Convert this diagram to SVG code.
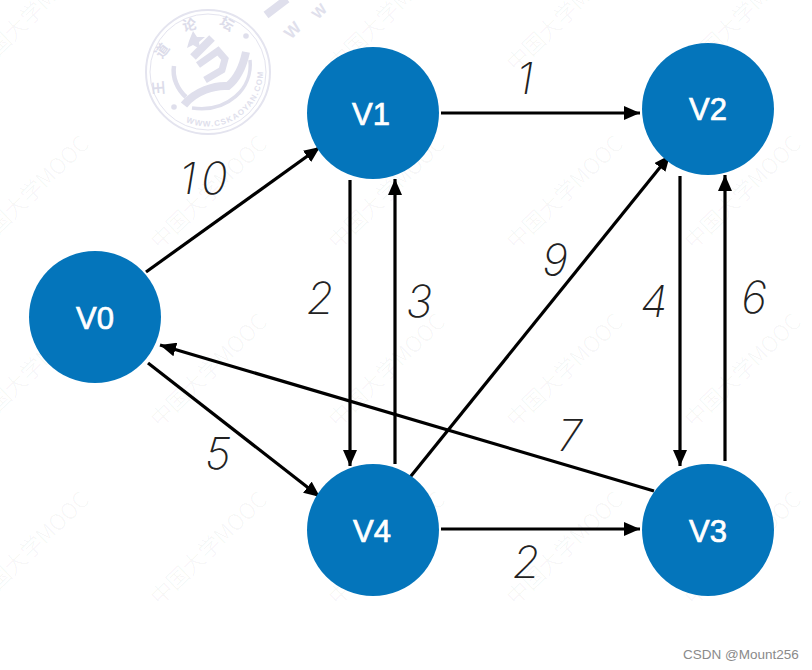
<svg xmlns="http://www.w3.org/2000/svg" width="812" height="670" viewBox="0 0 812 670">
  <style>
    .mark { font-family: "Noto Sans CJK SC", "Liberation Sans", sans-serif; font-size: 22px; font-weight: 300; fill: #000; fill-opacity: 0.05; }
    .seal-line { fill: none; stroke: #dfdfec; stroke-linecap: butt; }
    .ring { fill: none; stroke: #e4e4ef; }
    .seal-dot { fill: #dfdfec; }
    .seal-text { font-family: "Liberation Sans", sans-serif; fill: #e0e0ec; font-weight: 700; }
    .seal-name { font-family: "Noto Sans CJK SC", sans-serif; fill: #dcdcea; font-weight: 700; font-size: 14px; letter-spacing: 20px; }
    .node { fill: #0475bb; }
    .node-label { font-family: "Liberation Sans", Arial, sans-serif; font-size: 31px; fill: #fff; stroke: #fff; stroke-width: 0.7; text-anchor: middle; }
    .edge { stroke: #000; stroke-width: 3.2; fill: none; marker-end: url(#head); }
    .weight { font-family: Inter, "Liberation Sans", sans-serif; font-size: 44px; font-weight: 250; font-style: italic; fill: #222; text-anchor: middle; }
    .credit { font-family: "Liberation Sans", sans-serif; font-size: 13.5px; fill: #8a8a8a; }
  </style>
  <defs>
    <marker id="head" markerUnits="userSpaceOnUse" markerWidth="18" markerHeight="14" refX="16" refY="7" orient="auto">
      <path d="M0 0 L16 7 L0 14 Z" fill="#000"/>
    </marker>
    <text id="wm" class="mark" text-anchor="middle" transform="rotate(-44)">中国大学MOOC</text>
    <path id="seal-bottom" d="M186 122 A55 55 0 0 0 263 72"/>
    <path id="seal-top" d="M167 94 A47 47 0 0 1 243 41"/>
  </defs>
  <rect width="812" height="670" fill="#fff"/>

  <g id="watermarks">
    <use href="#wm" transform="translate(36 20)"/>
    <use href="#wm" transform="translate(392 20)"/>
    <use href="#wm" transform="translate(570 20)"/>
    <use href="#wm" transform="translate(748 20)"/>
    <use href="#wm" transform="translate(36 198)"/>
    <use href="#wm" transform="translate(214 198)"/>
    <use href="#wm" transform="translate(392 198)"/>
    <use href="#wm" transform="translate(570 198)"/>
    <use href="#wm" transform="translate(748 198)"/>
    <use href="#wm" transform="translate(36 376)"/>
    <use href="#wm" transform="translate(214 376)"/>
    <use href="#wm" transform="translate(392 376)"/>
    <use href="#wm" transform="translate(570 376)"/>
    <use href="#wm" transform="translate(748 376)"/>
    <use href="#wm" transform="translate(36 554)"/>
    <use href="#wm" transform="translate(214 554)"/>
    <use href="#wm" transform="translate(392 554)"/>
    <use href="#wm" transform="translate(570 554)"/>
    <use href="#wm" transform="translate(748 554)"/>
    <use href="#wm" transform="translate(36 732)"/>
    <use href="#wm" transform="translate(214 732)"/>
    <use href="#wm" transform="translate(392 732)"/>
    <use href="#wm" transform="translate(570 732)"/>
    <use href="#wm" transform="translate(748 732)"/>
  </g>

  <g id="seal">
    <circle class="ring" cx="208" cy="72" r="62" stroke-width="2"/>
    <circle class="ring" cx="208" cy="72" r="58" stroke-width="1"/>
    <!-- open book and its crescent -->
    <path class="seal-line" stroke-width="8" d="M184 105 C195 91 215 85 228 86 C238 78 243 66 246 52"/>
    <path class="seal-line" stroke-width="3.5" d="M250 60 C253 88 228 113 192 108"/>
    <path class="seal-line" stroke-width="4.5" d="M174 66 C172 78 178 90 186 97"/>
    <!-- central strokes -->
    <path class="seal-line" stroke-width="8" d="M193 57 L212 38"/>
    <path class="seal-line" stroke-width="7" d="M198 65 L218 51 L225 59 L222 70 L205 80"/>
    <path class="seal-dot" d="M193 31 L197 37 L205 37 L199 42 L200 49 L193 45 L187 48 L189 41 Z"/>
    <circle class="seal-dot" cx="246" cy="36" r="2.8"/>
    <circle class="seal-dot" cx="174" cy="107" r="2.8"/>
    <text class="seal-text" font-size="8" letter-spacing="1.2"><textPath href="#seal-bottom">WWW.CSKAOYAN.COM</textPath></text>
    <text class="seal-name"><textPath href="#seal-top">王道论坛</textPath></text>
    <path class="seal-line" stroke-width="8" d="M266 15 L287 -1"/>
    <text class="seal-text" font-size="17" font-weight="400" transform="translate(291 40) rotate(-45)">W</text>
    <text class="seal-text" font-size="15" font-weight="400" transform="translate(318 20) rotate(-45)">W</text>
  </g>

  <g id="connectors">
    <line class="edge" x1="146" y1="272" x2="320" y2="147"/>
    <line class="edge" x1="148" y1="363" x2="320" y2="497"/>
    <line class="edge" x1="350" y1="180" x2="350" y2="466"/>
    <line class="edge" x1="395" y1="464" x2="395" y2="179"/>
    <line class="edge" x1="441" y1="113" x2="640" y2="113"/>
    <line class="edge" x1="441" y1="529" x2="640" y2="529"/>
    <line class="edge" x1="407" y1="481" x2="670" y2="155"/>
    <line class="edge" x1="680" y1="176" x2="680" y2="466"/>
    <line class="edge" x1="725" y1="461" x2="725" y2="175"/>
    <line class="edge" x1="654" y1="491" x2="160" y2="345"/>
  </g>

  <g id="V0"><circle class="node" cx="95" cy="317" r="66"/><text class="node-label" x="95" y="329">V0</text></g>
  <g id="V1"><circle class="node" cx="373" cy="113" r="66"/><text class="node-label" x="371" y="125">V1</text></g>
  <g id="V2"><circle class="node" cx="708" cy="109" r="66"/><text class="node-label" x="708" y="120">V2</text></g>
  <g id="V3"><circle class="node" cx="708" cy="530" r="66"/><text class="node-label" x="708" y="542">V3</text></g>
  <g id="V4"><circle class="node" cx="373" cy="530" r="66"/><text class="node-label" x="372" y="542">V4</text></g>

  <g id="weights">
    <text class="weight" x="206" y="194" letter-spacing="5">10</text>
    <text class="weight" x="525" y="94">1</text>
    <text class="weight" x="320" y="314">2</text>
    <text class="weight" x="419" y="317">3</text>
    <text class="weight" x="555" y="276">9</text>
    <text class="weight" x="654" y="317">4</text>
    <text class="weight" x="754" y="313">6</text>
    <text class="weight" x="570" y="451">7</text>
    <text class="weight" x="218" y="469">5</text>
    <text class="weight" x="526" y="578">2</text>
  </g>

  <text class="credit" x="683" y="659">CSDN @Mount256</text>
</svg>
